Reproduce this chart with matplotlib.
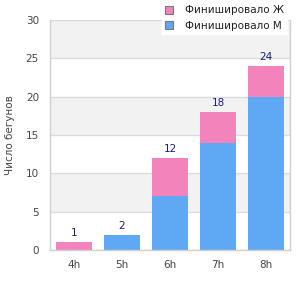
import matplotlib
matplotlib.use("Agg")
import matplotlib.pyplot as plt
from matplotlib.patches import Patch

categories = ["4h", "5h", "6h", "7h", "8h"]
male = [0, 2, 7, 14, 20]
female = [1, 0, 5, 4, 4]
yticks = [0, 5, 10, 15, 20, 25, 30]

pink = "#F383BB"
blue = "#5FA8F3"

fig = plt.figure(figsize=(3, 3), dpi=100)
ax = fig.add_axes([50/300, 50/300, 240/300, 230/300])

x = list(range(len(categories)))
ax.set_xlim(-0.5, len(categories) - 0.5)
ax.set_ylim(0, 30)

for i in range(0, 30, 10):
    ax.axhspan(i + 5, i + 10, color="#f2f2f2", zorder=0, lw=0)
for t in yticks:
    ax.axhline(t, color="#dcdcdc", lw=1, zorder=1)

ax.bar(x, male, width=0.73, color=blue, zorder=2)
ax.bar(x, female, bottom=male, width=0.73, color=pink, zorder=2)

for xi, m, f in zip(x, male, female):
    ax.text(xi, m + f + 0.5, str(m + f), ha="center", va="bottom",
            fontsize=7.5, color="#1a1a8c", zorder=3)

ax.set_xticks(x)
ax.set_xticklabels(categories)
ax.set_yticks(yticks)
ax.tick_params(axis="both", length=0, colors="#444444", labelsize=7.5)
ax.tick_params(axis="x", pad=7)
ax.tick_params(axis="y", pad=8)
for s in ["top"]:
    ax.spines[s].set_visible(False)
for s in ["left", "bottom", "right"]:
    ax.spines[s].set_color("#d0d0d0")
    ax.spines[s].set_linewidth(1)

fig.text(5/300, 1 - 135/300, "Число бегунов", rotation=90, ha="left", va="center",
         fontsize=7.5, color="#444444")

handles = [Patch(facecolor=pink, edgecolor="#777777", lw=0.8, label="Финишировало Ж"),
           Patch(facecolor=blue, edgecolor="#777777", lw=0.8, label="Финишировало М")]
leg = fig.legend(handles=handles, loc="upper right", bbox_to_anchor=(1.0 - 8/300, 1.0 + 3/300),
                 frameon=True, fontsize=7.5, handlelength=0.8, handleheight=0.8,
                 handletextpad=1.1, labelspacing=0.55, borderpad=0.3,
                 labelcolor="#222222")
leg.get_frame().set_facecolor("white")
leg.get_frame().set_edgecolor("white")
leg.get_frame().set_alpha(1)
leg.get_frame().set_boxstyle("square", pad=0)

fig.savefig("out.png", dpi=100)
